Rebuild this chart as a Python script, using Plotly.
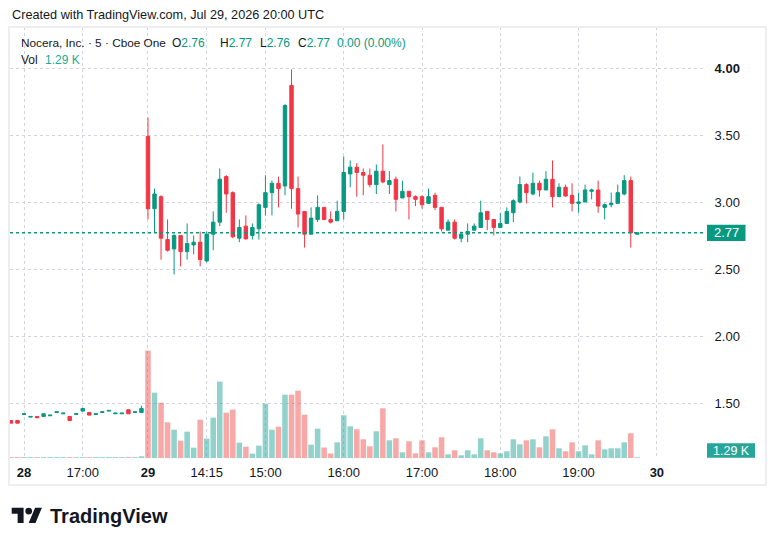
import plotly.graph_objects as go

# bar numbers on the compressed TradingView time scale (0 = first 5-min bar of Jul 29)
bars = list(range(-21, 76))

opens = [
    1.37, 1.37, 1.415, 1.395, 1.40, 1.40, 1.405, 1.43, 1.42, 1.40, 1.415,
    1.44, 1.43, 1.415, 1.43, 1.44, 1.42, 1.42, 1.45, 1.43, 1.43,
    3.49, 2.95, 3.04, 2.72, 2.65, 2.75, 2.63, 2.68, 2.70, 2.56,
    2.76, 2.85, 3.19, 3.07, 2.73, 2.82, 2.75, 2.80, 2.96, 3.07,
    3.14, 3.12, 3.87, 3.10, 2.93, 2.76, 2.87, 2.96, 2.87, 2.86,
    2.93, 3.21, 3.26, 3.22, 3.20, 3.13, 3.23, 3.13, 3.17, 3.03,
    3.08, 3.04, 3.04, 2.99, 3.05, 2.96, 2.79, 2.85, 2.73, 2.76,
    2.79, 2.81, 2.93, 2.87, 2.81, 2.84, 2.92, 3.00, 3.13, 3.06,
    3.14, 3.09, 3.17, 3.04, 3.11, 3.05, 2.99, 3.00, 3.08, 3.09,
    2.96, 2.98, 2.99, 3.06, 3.16, 2.76,
]
highs = [
    1.37, 1.37, 1.42, 1.40, 1.40, 1.42, 1.41, 1.435, 1.425, 1.40, 1.42,
    1.46, 1.43, 1.42, 1.435, 1.445, 1.425, 1.425, 1.45, 1.435, 1.48,
    3.63, 3.10, 3.05, 2.87, 2.76, 2.75, 2.84, 2.75, 2.78, 2.78,
    2.93, 3.25, 3.20, 3.08, 2.87, 2.90, 2.84, 2.99, 3.20, 3.16,
    3.19, 3.73, 3.99, 3.19, 2.93, 2.96, 3.05, 2.96, 2.93, 3.01,
    3.34, 3.31, 3.29, 3.25, 3.25, 3.28, 3.43, 3.23, 3.19, 3.16,
    3.08, 3.05, 3.05, 3.10, 3.07, 2.96, 2.87, 2.87, 2.78, 2.84,
    2.84, 3.01, 2.93, 2.87, 2.92, 2.96, 3.02, 3.19, 3.14, 3.22,
    3.16, 3.23, 3.31, 3.14, 3.13, 3.14, 3.07, 3.13, 3.10, 3.16,
    2.99, 3.07, 3.13, 3.20, 3.19, 2.77,
]
lows = [
    1.35, 1.35, 1.415, 1.395, 1.39, 1.40, 1.405, 1.43, 1.42, 1.37, 1.415,
    1.44, 1.41, 1.415, 1.43, 1.44, 1.42, 1.42, 1.42, 1.43, 1.43,
    2.87, 2.77, 2.57, 2.63, 2.46, 2.52, 2.57, 2.61, 2.52, 2.55,
    2.64, 2.82, 2.92, 2.73, 2.70, 2.72, 2.72, 2.72, 2.90, 2.90,
    2.96, 3.05, 2.95, 2.81, 2.66, 2.76, 2.85, 2.865, 2.84, 2.86,
    2.87, 3.11, 3.04, 3.05, 3.11, 3.06, 3.14, 3.06, 2.93, 3.03,
    2.87, 2.97, 2.95, 2.99, 2.94, 2.78, 2.79, 2.72, 2.70, 2.70,
    2.79, 2.81, 2.79, 2.75, 2.81, 2.84, 2.85, 2.99, 2.99, 3.05,
    3.04, 3.09, 2.96, 3.04, 3.04, 2.93, 2.92, 3.00, 3.02, 2.92,
    2.87, 2.96, 2.99, 3.05, 2.66, 2.76,
]
closes = [
    1.35, 1.35, 1.42, 1.40, 1.39, 1.42, 1.41, 1.435, 1.425, 1.37, 1.42,
    1.46, 1.41, 1.42, 1.435, 1.445, 1.425, 1.425, 1.42, 1.435, 1.46,
    2.95, 3.06, 2.73, 2.64, 2.75, 2.63, 2.69, 2.70, 2.57, 2.76,
    2.85, 3.17, 3.06, 2.74, 2.81, 2.725, 2.81, 2.98, 3.07, 3.14,
    3.10, 3.72, 3.10, 2.91, 2.76, 2.88, 2.96, 2.87, 2.85, 2.93,
    3.22, 3.26, 3.22, 3.20, 3.13, 3.23, 3.15, 3.16, 3.02, 3.08,
    3.04, 3.02, 2.98, 3.04, 2.96, 2.80, 2.85, 2.73, 2.76, 2.78,
    2.82, 2.92, 2.87, 2.81, 2.84, 2.93, 3.01, 3.13, 3.07, 3.14,
    3.09, 3.17, 3.04, 3.11, 3.045, 2.99, 3.00, 3.09, 3.09, 2.97,
    2.98, 2.99, 3.07, 3.16, 2.77, 2.77,
]
# volume in thousands of shares
volumes = [
    1.6, 1.6, 1.6, 1.6, 1.6, 1.6, 1.6, 1.6, 1.6, 1.6, 1.6,
    1.6, 1.6, 1.6, 1.6, 1.6, 1.6, 1.6, 1.6, 1.6, 3.1,
    198.5, 120.8, 102.3, 66.0, 52.4, 32.0, 48.7, 19.1, 70.9, 35.7,
    74.6, 141.2, 83.8, 89.4, 28.3, 20.9, 8.0, 22.8, 100.5, 52.4,
    57.9, 117.1, 117.1, 124.5, 80.1, 24.6, 54.2, 19.4, 8.3, 29.0,
    79.0, 58.6, 53.1, 34.6, 21.6, 49.4, 91.9, 32.7, 36.4, 10.5,
    30.9, 8.7, 32.7, 10.5, 19.8, 38.3, 6.8, 14.2, 5.0, 14.2,
    6.8, 36.4, 14.2, 10.5, 8.7, 12.4, 34.6, 25.3, 32.7, 34.6,
    19.8, 40.1, 53.1, 17.9, 12.4, 29.0, 12.4, 23.5, 6.8, 32.7,
    16.1, 17.9, 17.9, 29.0, 45.7, 1.29,
]

tick_bars = [-19, -10, 0, 9, 18, 30, 42, 54, 66, 78]
tick_labels = ["<b>28</b>", "17:00", "<b>29</b>", "14:15", "15:00", "16:00",
               "17:00", "18:00", "19:00", "<b>30</b>"]
price_ticks = [1.5, 2.0, 2.5, 3.0, 3.5, 4.0]
price_labels = ["1.50", "2.00", "2.50", "3.00", "3.50", "<b>4.00</b>"]

UP = "#089981"
DOWN = "#F23645"
UP_VOL = "rgba(38,166,154,0.5)"
DOWN_VOL = "rgba(239,83,80,0.5)"
TEXT = "#131722"
FONT = "Liberation Sans"

# the page body adds an 8px offset, so the figure is 8px smaller
# and all positions below are given in screenshot pixels
OFF = 8
W, H = 776 - OFF, 546 - OFF
PLOT_L, PLOT_R, PLOT_T, PLOT_B = 10, 703, 27, 458   # plot area in screenshot px
PW, PH = PLOT_R - PLOT_L, PLOT_B - PLOT_T


def px_x(p):
    return (p - PLOT_L) / PW


def px_y(p):
    return (PLOT_B - p) / PH


vol_colors = [UP_VOL if c >= o else DOWN_VOL for o, c in zip(opens, closes)]

fig = go.Figure()
fig.add_trace(go.Candlestick(
    x=bars, open=opens, high=highs, low=lows, close=closes,
    increasing=dict(line=dict(color=UP, width=1), fillcolor=UP),
    decreasing=dict(line=dict(color=DOWN, width=1), fillcolor=DOWN),
    whiskerwidth=0, showlegend=False, hoverinfo="skip",
))
fig.add_trace(go.Bar(
    x=bars, y=volumes, marker=dict(color=vol_colors, line=dict(width=0)),
    width=0.85, yaxis="y2", showlegend=False, hoverinfo="skip",
))

last = closes[-1]
shapes = [
    # outer frame
    dict(type="rect", xref="paper", yref="paper", x0=px_x(9), x1=px_x(766),
         y0=px_y(485), y1=px_y(27), line=dict(color="#eceef2", width=2)),
    # last price line + badge
    dict(type="line", xref="paper", yref="y", x0=0, x1=1, y0=last, y1=last,
         line=dict(color=UP, width=1.5, dash="dot")),
    dict(type="rect", xref="paper", yref="y", x0=px_x(707), x1=px_x(745.5),
         y0=last - 8.2 / 134, y1=last + 8.2 / 134, fillcolor=UP,
         line=dict(width=0)),
    # volume badge
    dict(type="rect", xref="paper", yref="paper", x0=px_x(707), x1=px_x(755),
         y0=px_y(457.7), y1=px_y(443.3), fillcolor="#26a69a",
         line=dict(width=0)),
]


# TradingView logo
def poly(points):
    d = "M " + " L ".join(f"{px_x(a):.5f},{px_y(b):.5f}" for a, b in points)
    return d + " Z"


shapes.append(dict(type="path", xref="paper", yref="paper", fillcolor="#131722",
                   line=dict(width=0),
                   path=poly([(11.7, 507.7), (23.6, 507.7), (23.6, 523.0),
                              (17.65, 523.0), (17.65, 513.65), (11.7, 513.65)])))
shapes.append(dict(type="path", xref="paper", yref="paper", fillcolor="#131722",
                   line=dict(width=0),
                   path=poly([(28.7, 523.0), (35.5, 523.0), (41.9, 507.7),
                              (35.1, 507.7)])))
shapes.append(dict(type="circle", xref="paper", yref="paper", fillcolor="#131722",
                   line=dict(width=0), x0=px_x(25.3), x1=px_x(32.1),
                   y0=px_y(514.5), y1=px_y(507.7)))


def note(text, x, y, size=12, color=TEXT, xanchor="left"):
    return dict(text=text, x=px_x(x), y=px_y(y), xref="paper", yref="paper",
                xanchor=xanchor, yanchor="middle", showarrow=False,
                font=dict(family=FONT, size=size, color=color))


o, h, l, c = opens[-1], highs[-1], lows[-1], closes[-1]
chg = c - closes[-2]
annotations = [
    note("Created with TradingView.com, Jul 29, 2026 20:00 UTC", 10, 15, size=12.7),
    note("Nocera, Inc. · 5 · Cboe One", 19, 43, size=11.8),
    note(f"O<span style='color:{UP}'>{o:.2f}</span>", 170, 43),
    note(f"H<span style='color:{UP}'>{h:.2f}</span>", 218, 43),
    note(f"L<span style='color:{UP}'>{l:.2f}</span>", 258, 43),
    note(f"C<span style='color:{UP}'>{c:.2f}</span>", 296, 43),
    note(f"{chg:.2f} ({chg / closes[-2] * 100:.2f}%)", 335, 43, color=UP),
    note("Vol", 19, 60),
    note(f"{volumes[-1]:.2f} K", 43, 60, color="#22ab94"),
    dict(text=f"{last:.2f}", x=px_x(726.2), y=last, xref="paper", yref="y",
         xanchor="center", yanchor="middle", showarrow=False,
         font=dict(family=FONT, size=13, color="white")),
    note(f"{volumes[-1]:.2f} K", 731, 450.5, size=12.5, color="white",
         xanchor="center"),
    note("<b>TradingView</b>", 48, 516, size=20, color="#131722"),
]

fig.update_layout(
    width=W, height=H,
    margin=dict(l=PLOT_L - OFF, r=W - (PLOT_R - OFF), t=PLOT_T - OFF,
                b=H - (PLOT_B - OFF)),
    paper_bgcolor="white", plot_bgcolor="white",
    font=dict(family=FONT, size=13, color=TEXT),
    boxgap=0.25,
    xaxis=dict(
        range=[-21.15, 85.07], tickvals=tick_bars, ticktext=tick_labels,
        showgrid=True, gridcolor="#d1d4dc", griddash="dot", gridwidth=1,
        zeroline=False, showline=False, ticks="outside", ticklen=2,
        tickcolor="rgba(0,0,0,0)", tickfont=dict(size=13, color=TEXT),
        rangeslider=dict(visible=False), fixedrange=True,
    ),
    yaxis=dict(
        side="right", range=[1.090, 4.306], tickvals=price_ticks,
        ticktext=price_labels, showgrid=True, gridcolor="#d1d4dc",
        griddash="dot", gridwidth=1, zeroline=False, showline=False,
        ticks="outside", ticklen=8, tickcolor="rgba(0,0,0,0)",
        tickfont=dict(size=13, color=TEXT), fixedrange=True,
    ),
    yaxis2=dict(overlaying="y", range=[0, 797], visible=False, fixedrange=True),
    shapes=shapes,
    annotations=annotations,
    showlegend=False,
)

fig.write_html("out.html")
